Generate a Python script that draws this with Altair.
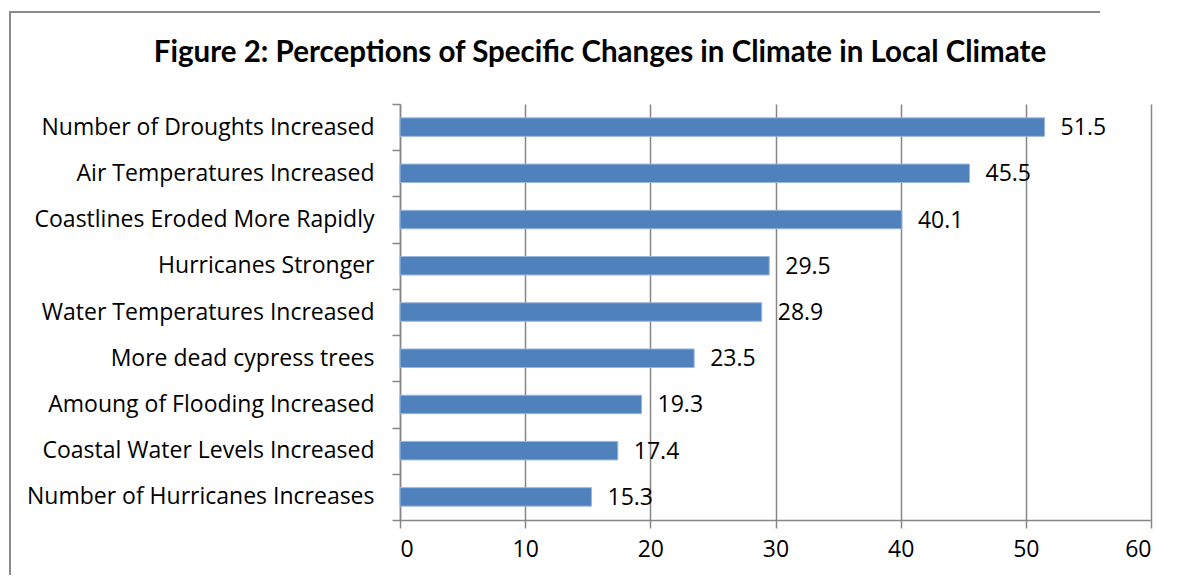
import altair as alt
import pandas as pd

title_text = "Figure 2: Perceptions of Specific Changes in Climate in Local Climate"
categories = [
    "Number of Droughts Increased",
    "Air Temperatures Increased",
    "Coastlines Eroded More Rapidly",
    "Hurricanes Stronger",
    "Water Temperatures Increased",
    "More dead cypress trees",
    "Amoung of Flooding Increased",
    "Coastal Water Levels Increased",
    "Number of Hurricanes Increases",
]
values = [51.5, 45.5, 40.1, 29.5, 28.9, 23.5, 19.3, 17.4, 15.3]
x_ticks = [0, 10, 20, 30, 40, 50, 60]

df = pd.DataFrame({"category": categories, "value": values})
title_df = pd.DataFrame({"t": [title_text]})

FONT = "Open Sans"
GRAY = "#868686"
FS = 23

y_enc = alt.Y(
    "category:N",
    sort=categories,
    scale=alt.Scale(paddingInner=0, paddingOuter=0),
    axis=alt.Axis(
        title=None, tickBand="extent", tickSize=8, tickColor=GRAY, tickWidth=1.5,
        domainColor=GRAY, domainWidth=1.5, labelFont=FONT, labelFontSize=FS,
        labelColor="#000000", labelPadding=18, grid=False, labelLimit=400,
    ),
)
x_enc = alt.X(
    "value:Q",
    scale=alt.Scale(domain=[0, 60], nice=False),
    axis=alt.Axis(
        title=None, values=x_ticks, tickSize=8, tickColor=GRAY, tickWidth=1.5,
        domainColor=GRAY, domainWidth=1.5, grid=True, gridColor=GRAY, gridWidth=1.5,
        labelFont=FONT, labelFontSize=FS, labelColor="#000000", labelPadding=10,
    ),
)

border_top = alt.Chart(title_df).mark_rule(stroke="#8a8a8a", strokeWidth=2).encode(
    x=alt.value(-390), x2=alt.value(700), y=alt.value(-92)
)
border_left = alt.Chart(title_df).mark_rule(stroke="#8a8a8a", strokeWidth=2).encode(
    x=alt.value(-390), y=alt.value(-93), y2=alt.value(600)
)

title = alt.Chart(title_df).mark_text(
    align="center", baseline="alphabetic", font="Lato", fontSize=29.5,
    fontWeight="bold", color="#000000"
).encode(x=alt.value(200), y=alt.value(-42), text="t:N")

bars = alt.Chart(df).mark_bar(
    color="#4F81BD", stroke="#9BB7DA", strokeWidth=1, size=18.5
).encode(x=x_enc, y=y_enc)

labels = alt.Chart(df).mark_text(
    align="left", baseline="middle", dx=16, dy=1, font=FONT, fontSize=FS, color="#000000"
).encode(x="value:Q", y=alt.Y("category:N", sort=categories), text=alt.Text("value:Q", format=".1f"))

chart = alt.layer(border_top, border_left, title, bars, labels).properties(
    width=751,
    height=416,
    autosize=alt.AutoSizeParams(type="none"),
    padding={"left": 392, "top": 96, "right": 10, "bottom": 55},
).configure_view(stroke=None)

chart.save("out.html", embed_options={"renderer": "svg", "actions": False})
